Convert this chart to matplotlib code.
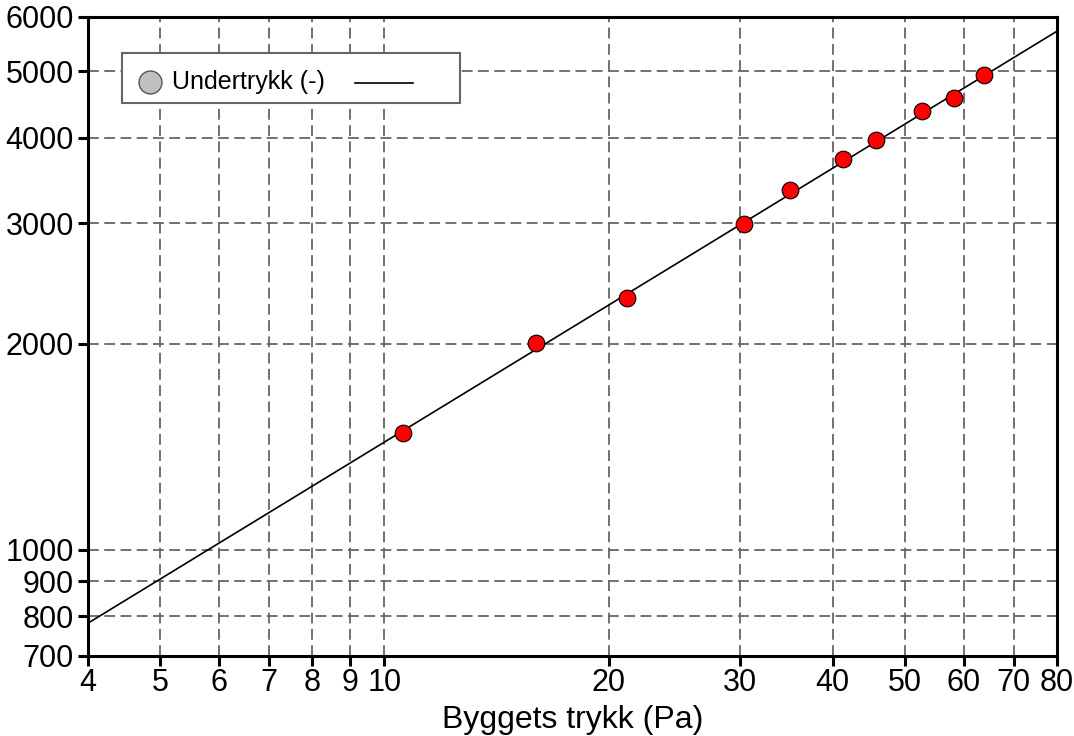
import matplotlib.pyplot as plt
import numpy as np
from matplotlib.patches import Rectangle
from matplotlib.lines import Line2D

plt.rcParams['font.family'] = ['Liberation Sans', 'DejaVu Sans']

# measured points: building pressure (Pa) vs air flow
trykk = [10.6, 16.0, 21.2, 30.4, 35.0, 41.3, 45.7, 52.7, 58.2, 63.8]
flow = [1480, 2005, 2335, 2990, 3355, 3720, 3970, 4375, 4570, 4935]
# power-law fit  q = C * p^n
C = 311.2
n = 0.6644

xticks = [4, 5, 6, 7, 8, 9, 10, 20, 30, 40, 50, 60, 70, 80]
yticks = [700, 800, 900, 1000, 2000, 3000, 4000, 5000, 6000]

fig = plt.figure(figsize=(10.74, 7.36), dpi=100)
ax = fig.add_axes([88/1074, 1-656/736, 969/1074, 639/736])
ax.set_xscale('log')
ax.set_yscale('log')
ax.set_xlim(4, 80)
ax.set_ylim(700, 6000)

ax.set_xticks(xticks)
ax.set_xticklabels([str(t) for t in xticks])
ax.set_yticks(yticks)
ax.set_yticklabels([str(t) for t in yticks])
ax.minorticks_off()
ax.tick_params(labelsize=22, length=7.5, width=2.2, direction='out')
ax.tick_params(axis='y', pad=2.5)
ax.tick_params(axis='x', pad=1)
for s in ax.spines.values():
    s.set_linewidth(2.2)

ax.grid(True, which='major', color='#666666', linestyle=(0, (6, 3)), linewidth=1.3)
ax.set_axisbelow(True)

px = np.geomspace(4, 80, 200)
ax.plot(px, C * px ** n, color='black', linewidth=1.2, zorder=3)
ax.plot(trykk, flow, 'o', color='red', markeredgecolor='black',
        markeredgewidth=0.8, markersize=12, zorder=4)

ax.set_xlabel('Byggets trykk (Pa)', fontsize=23, labelpad=5)

# legend box drawn by hand
ax.add_patch(Rectangle((0.0351, 0.8654), 0.3488, 0.0783, transform=ax.transAxes,
                       facecolor='white', edgecolor='#666666', linewidth=1.5, zorder=5))
ax.add_line(Line2D([0.064], [0.898], transform=ax.transAxes, marker='o',
                   markersize=16.5, markerfacecolor='#c0c0c0', markeredgecolor='#555555',
                   markeredgewidth=1, linestyle='none', zorder=6))
ax.text(0.0867, 0.898, 'Undertrykk (-)', transform=ax.transAxes, fontsize=18,
        va='center', ha='left', zorder=6)
ax.add_line(Line2D([0.2755, 0.3354], [0.8967, 0.8967], transform=ax.transAxes,
                   color='black', linewidth=1.2, zorder=6))

fig.savefig('out.png', dpi=100)
